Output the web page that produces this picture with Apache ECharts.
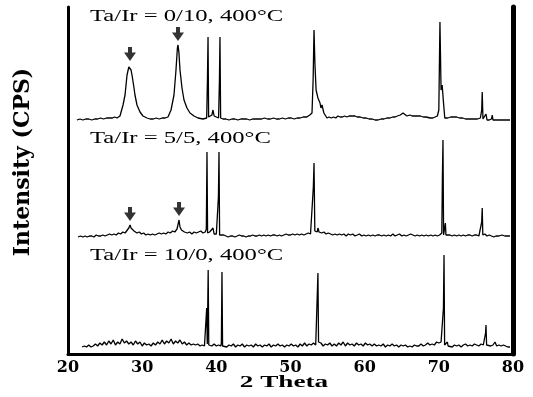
<!DOCTYPE html>
<html>
<head>
<meta charset="utf-8">
<script src="https://cdn.jsdelivr.net/npm/echarts@6/dist/echarts.min.js"></script>
<style>
  html, body { margin: 0; padding: 0; background: #fff; }
  #chart { width: 533px; height: 397px; }
</style>
</head>
<body>
<div id="chart"></div>
<script>
// 2 theta (deg), intensity above each trace's own baseline
const taIr_0_10 = [
  [21.2,0],[21.6,1],[22.0,0],[22.4,1],[22.8,1],[23.2,0],[23.6,1],[24.0,1],[24.4,2],[24.8,1],[25.2,2],[25.6,2],
  [26.0,2],[26.3,3],[26.61,2],[27.01,4],[27.42,15],[27.69,25],[27.96,45],[28.2,53],[28.36,55],[28.5,50],
  [28.63,45],[28.9,32],[29.03,25],[29.3,15],[29.71,8],[30.11,4],[30.65,2],[31.06,1],[31.5,1],[31.9,2],[32.3,1],
  [32.7,2],[33.1,2],[33.48,3],[33.89,10],[34.29,25],[34.56,50],[34.75,72],[34.83,75],[34.95,68],[35.1,50],
  [35.37,32],[35.64,20],[36.04,12],[36.45,7],[36.99,4],[37.53,2],[38.2,1],[38.7,2],[38.8,40],[38.88,83],
  [38.96,3],[39.2,4],[39.4,5],[39.55,10],[39.7,4],[40.0,3],[40.3,2],[40.42,40],[40.49,83],[40.58,2],[40.9,1],
  [41.3,1],[41.7,0],[42.1,1],[42.5,1],[42.9,0],[43.3,1],[43.7,1],[44.1,1],[44.5,0],[44.9,1],[45.3,1],[45.7,1],
  [46.1,1],[46.5,2],[46.9,1],[47.3,1],[47.7,2],[48.1,1],[48.5,1],[48.9,2],[49.3,1],[49.7,2],[50.1,2],[50.5,1],
  [50.9,2],[51.3,2],[51.7,3],[52.2,3],[52.6,5],[52.9,7],[53.05,40],[53.17,90],[53.3,55],[53.45,30],[53.7,22],
  [53.98,17],[54.1,12],[54.25,15],[54.5,7],[54.92,2],[55.2,3],[55.5,2],[55.8,3],[56.1,2],[56.4,4],[56.7,3],
  [57.0,3],[57.3,4],[57.6,3],[57.9,4],[58.2,4],[58.4,6],[58.7,4],[59.0,3],[59.4,3],[59.8,2],[60.2,2],[60.6,1],
  [61.0,1],[61.4,0],[61.8,0],[62.2,1],[62.6,1],[63.0,2],[63.4,2],[63.8,3],[64.1,3],[64.4,4],[64.8,5],[65.17,7],
  [65.4,5],[65.7,4],[66.1,5],[66.4,4],[66.8,4],[67.2,4],[67.5,4],[67.9,3],[68.3,3],[68.8,2],[69.2,2],[69.5,3],
  [69.8,4],[70.0,10],[70.15,98],[70.3,30],[70.45,35],[70.6,20],[70.8,2],[71.2,2],[71.6,3],[72.0,3],[72.4,3],
  [72.8,2],[73.2,2],[73.6,1],[74.0,1],[74.4,1],[74.8,1],[75.2,1],[75.6,2],[75.78,10],[75.85,28],[75.95,1],
  [76.2,1],[76.36,6],[76.5,0],[76.8,0],[77.1,1],[77.2,5],[77.3,0],[77.7,0],[78.1,0],[78.5,0],[78.9,0],[79.3,0],
  [79.6,0]
];

const taIr_5_5 = [
  [21.35,0],[21.7,1],[22.0,0],[22.3,1],[22.6,0],[22.9,1],[23.2,1],[23.5,0],[23.8,2],[24.1,1],[24.4,1],[24.7,2],
  [25.0,1],[25.3,2],[25.6,3],[25.9,2],[26.2,3],[26.5,2],[26.8,4],[27.1,3],[27.4,5],[27.7,4],[27.96,6],[28.2,9],
  [28.36,12],[28.5,9],[28.7,10],[28.9,6],[29.1,7],[29.3,4],[29.6,5],[29.9,3],[30.2,4],[30.5,2],[30.8,3],[31.1,2],
  [31.4,3],[31.7,2],[32.0,3],[32.3,4],[32.6,3],[32.9,4],[33.2,3],[33.5,5],[33.8,4],[34.1,6],[34.4,5],[34.7,8],
  [34.97,17],[35.1,10],[35.3,7],[35.5,8],[35.7,5],[35.9,6],[36.1,4],[36.4,5],[36.7,3],[37.0,5],[37.3,4],[37.6,5],
  [37.9,6],[38.2,4],[38.5,5],[38.65,8],[38.74,85],[38.82,4],[39.1,5],[39.3,4],[39.55,9],[39.7,3],[40.0,3],
  [40.2,4],[40.28,40],[40.36,85],[40.44,2],[40.7,1],[41.0,2],[41.3,1],[41.6,0],[41.9,1],[42.2,1],[42.5,0],
  [42.8,1],[43.1,2],[43.4,1],[43.7,1],[44.0,0],[44.3,1],[44.6,1],[44.9,2],[45.2,1],[45.5,1],[45.8,2],[46.1,1],
  [46.4,2],[46.7,1],[47.0,2],[47.3,1],[47.6,2],[47.9,2],[48.2,1],[48.5,2],[48.8,1],[49.1,2],[49.4,3],[49.7,2],
  [50.0,2],[50.3,3],[50.6,2],[50.9,3],[51.2,2],[51.5,3],[51.8,2],[52.1,3],[52.4,4],[52.7,3],[52.95,4],
  [53.08,50],[53.17,74],[53.28,6],[53.45,8],[53.6,5],[53.7,9],[53.85,5],[54.0,6],[54.2,4],[54.5,5],[54.8,3],
  [55.1,4],[55.4,3],[55.7,2],[56.0,3],[56.3,2],[56.6,3],[56.9,2],[57.2,3],[57.5,1],[57.8,3],[58.1,2],[58.4,3],
  [58.7,1],[59.0,2],[59.3,3],[59.6,1],[59.9,2],[60.2,1],[60.5,2],[60.8,1],[61.1,2],[61.4,1],[61.7,2],[62.0,2],
  [62.3,1],[62.6,2],[62.9,1],[63.2,2],[63.5,1],[63.8,3],[64.1,1],[64.4,2],[64.7,3],[65.0,1],[65.3,2],[65.6,1],
  [65.9,2],[66.2,3],[66.5,2],[66.8,1],[67.1,2],[67.4,1],[67.7,2],[68.0,1],[68.3,2],[68.6,1],[68.9,2],[69.2,1],
  [69.5,2],[69.8,1],[70.1,2],[70.4,4],[70.48,60],[70.56,97],[70.64,2],[70.88,14],[70.96,2],[71.2,1],[71.5,2],
  [71.8,1],[72.1,2],[72.4,1],[72.7,2],[73.0,1],[73.3,2],[73.6,1],[73.9,2],[74.2,2],[74.5,1],[74.8,2],[75.1,2],
  [75.4,1],[75.65,3],[75.78,15],[75.85,29],[75.93,2],[76.2,3],[76.5,1],[76.8,2],[77.1,1],[77.4,0],[77.7,1],
  [78.1,1],[78.5,2],[78.9,1],[79.3,1],[79.6,1]
];

const taIr_10_0 = [
  [21.9,1],[22.2,2],[22.5,1],[22.8,3],[23.1,1],[23.4,2],[23.7,4],[24.0,2],[24.3,5],[24.6,3],[24.9,6],[25.2,3],
  [25.5,7],[25.8,4],[26.1,8],[26.4,3],[26.7,6],[27.0,4],[27.3,9],[27.6,5],[27.9,7],[28.2,4],[28.5,6],[28.8,3],
  [29.1,7],[29.4,4],[29.7,6],[30.0,2],[30.3,5],[30.6,3],[30.9,4],[31.2,2],[31.5,5],[31.8,3],[32.1,6],[32.4,4],
  [32.7,8],[33.0,4],[33.3,7],[33.6,5],[33.9,9],[34.2,4],[34.5,7],[34.8,5],[35.1,8],[35.4,4],[35.7,6],[36.0,3],
  [36.3,5],[36.6,3],[36.9,4],[37.2,3],[37.5,4],[37.8,2],[38.1,3],[38.4,2],[38.62,3],[38.7,40],[38.78,4],
  [38.84,6],[38.9,78],[38.98,3],[39.2,5],[39.4,2],[39.7,4],[40.0,2],[40.3,3],[40.6,2],[40.68,5],[40.76,76],
  [40.84,2],[41.1,3],[41.4,1],[41.7,3],[42.0,2],[42.3,4],[42.6,1],[42.9,3],[43.2,2],[43.5,4],[43.8,1],[44.1,3],
  [44.4,2],[44.7,3],[45.0,1],[45.3,4],[45.6,2],[45.9,3],[46.2,1],[46.5,3],[46.8,2],[47.1,4],[47.4,1],[47.7,3],
  [48.0,2],[48.3,4],[48.6,2],[48.9,3],[49.2,1],[49.5,3],[49.8,2],[50.1,4],[50.4,2],[50.7,3],[51.0,1],[51.3,4],
  [51.6,2],[51.9,5],[52.2,2],[52.5,4],[52.8,3],[53.1,5],[53.4,3],[53.6,4],[53.7,75],[53.78,6],[53.9,4],
  [54.1,5],[54.4,2],[54.7,4],[55.0,3],[55.3,5],[55.6,2],[55.9,4],[56.2,2],[56.5,5],[56.8,3],[57.1,6],[57.4,2],
  [57.7,5],[58.0,3],[58.3,4],[58.6,2],[58.9,5],[59.2,3],[59.5,4],[59.8,2],[60.1,5],[60.4,3],[60.7,4],[61.0,2],
  [61.3,4],[61.6,2],[61.9,3],[62.2,2],[62.5,4],[62.8,1],[63.1,3],[63.4,2],[63.7,4],[64.0,2],[64.3,3],[64.6,1],
  [64.9,3],[65.2,2],[65.5,3],[65.8,1],[66.1,2],[66.4,1],[66.7,3],[67.0,2],[67.3,2],[67.6,4],[67.9,2],[68.2,3],
  [68.5,5],[68.8,3],[69.1,4],[69.4,3],[69.7,6],[70.0,5],[70.3,6],[70.55,4],[70.62,40],[70.7,93],[70.78,3],
  [71.0,2],[71.15,6],[71.25,2],[71.5,3],[71.8,1],[72.1,3],[72.4,2],[72.7,3],[73.0,1],[73.3,3],[73.6,4],
  [73.9,2],[74.2,3],[74.5,2],[74.8,4],[75.1,3],[75.4,2],[75.7,4],[76.0,3],[76.2,5],[76.3,15],[76.36,23],
  [76.44,3],[76.7,4],[77.0,2],[77.3,3],[77.57,6],[77.8,2],[78.1,3],[78.4,2],[78.7,3],[79.0,2],[79.3,1],[79.6,1]
];

const spectra = [taIr_0_10, taIr_5_5, taIr_10_0];
const panelOffset = [234, 117, 6];
const panelLabels = ["Ta/Ir = 0/10, 400\u00b0C", "Ta/Ir = 5/5, 400\u00b0C", "Ta/Ir = 10/0, 400\u00b0C"];
// [panel, 2 theta] of the marked peaks
const arrowPeaks = [[0, 28.36], [0, 34.83], [1, 28.36], [1, 34.97]];

const xMin = 20, xMax = 80, xStep = 10;
const yMax = 347;

function peakTop(panel, at) {
  let top = 0;
  spectra[panel].forEach(p => {
    if (Math.abs(p[0] - at) < 0.2 && p[1] > top) top = p[1];
  });
  return top + panelOffset[panel];
}

const arrowPath = "path://M4,0 L8,0 L8,5 L12,5 L6,13 L0,5 L4,5 Z";

const chart = echarts.init(document.getElementById("chart"), null, { renderer: "canvas" });

const series = spectra.map((s, i) => ({
  type: "line",
  data: s.map(p => [p[0], p[1] + panelOffset[i]]),
  showSymbol: false,
  silent: true,
  lineStyle: { color: "#000", width: 1.3 },
}));

series.push({
  type: "scatter",
  data: arrowPeaks.map(a => [a[1], peakTop(a[0], a[1])]),
  symbol: arrowPath,
  symbolSize: [12, 14],
  symbolOffset: [0, -11],
  itemStyle: { color: "#000" },
  silent: true,
});

const labelTop = [17, 139, 256];

chart.setOption({
  animation: false,
  grid: { left: 68, right: 20, top: 7, bottom: 43 },
  xAxis: [
    {
      type: "value",
      min: xMin,
      max: xMax,
      interval: xStep,
      splitLine: { show: false },
      axisTick: { show: false },
      axisLine: { lineStyle: { color: "#000", width: 3 } },
      axisLabel: {
        color: "#000",
        fontFamily: "DejaVu Serif",
        fontWeight: "bold",
        fontSize: 16,
        margin: 6,
      },
    },
    {
      type: "value",
      position: "top",
      min: xMin,
      max: xMax,
      splitLine: { show: false },
      axisTick: { show: false },
      axisLabel: { show: false },
      axisLine: { lineStyle: { color: "#000", width: 2 } },
    },
  ],
  yAxis: [
    {
      type: "value",
      min: 0,
      max: yMax,
      splitLine: { show: false },
      axisTick: { show: false },
      axisLabel: { show: false },
      axisLine: { show: true, lineStyle: { color: "#000", width: 3 } },
    },
    {
      type: "value",
      position: "right",
      min: 0,
      max: yMax,
      splitLine: { show: false },
      axisTick: { show: false },
      axisLabel: { show: false },
      axisLine: { show: true, lineStyle: { color: "#000", width: 5 } },
    },
  ],
  graphic: panelLabels.map((t, i) => ({
    type: "text",
    x: 90,
    y: labelTop[i],
    scaleX: 1.45,
    style: {
      text: t,
      font: '17px "Liberation Serif"',
      fill: "#000",
      textAlign: "left",
      textVerticalAlign: "middle",
    },
  })).concat([
    {
      type: "text",
      x: 284,
      y: 383,
      scaleX: 1.7,
      style: {
        text: "2 Theta",
        font: 'bold 16px "Liberation Serif"',
        fill: "#000",
        textAlign: "center",
        textVerticalAlign: "middle",
      },
    },
    {
      type: "text",
      x: 23,
      y: 162,
      rotation: Math.PI / 2,
      style: {
        text: "Intensity (CPS)",
        font: 'bold 22px "DejaVu Serif"',
        fill: "#000",
        textAlign: "center",
        textVerticalAlign: "middle",
      },
    },
  ]),
  series: series,
});
</script>
</body>
</html>
